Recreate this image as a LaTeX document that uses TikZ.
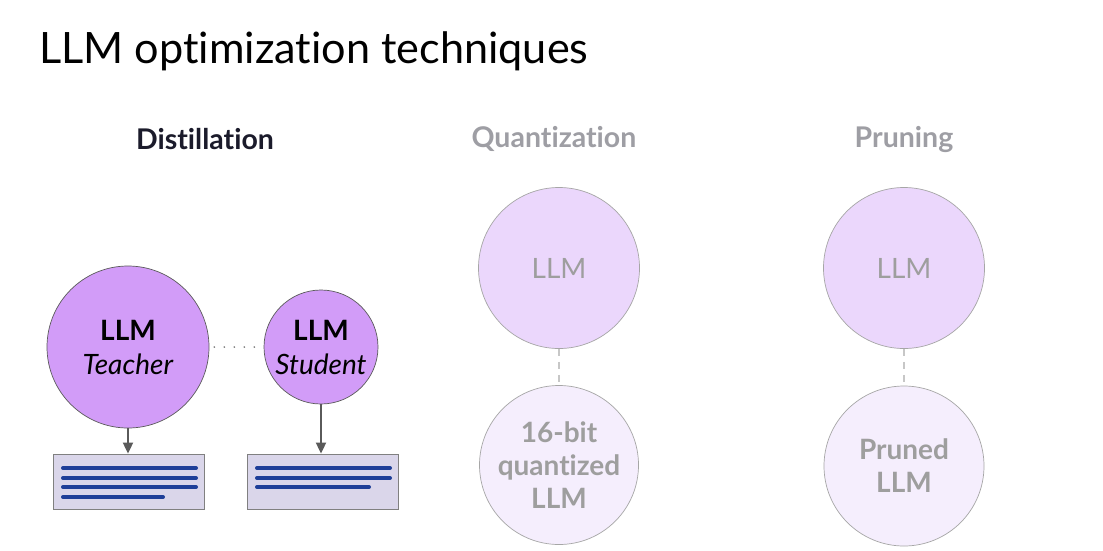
\documentclass[tikz,border=0pt]{standalone}
\usepackage{fontspec}
\setmainfont[Ligatures=NoCommon]{Lato}
\usetikzlibrary{arrows.meta}
\definecolor{teachfill}{HTML}{D29CF8}
\definecolor{qtop}{HTML}{EBD7FC}
\definecolor{qbot}{HTML}{F5EEFD}
\definecolor{graytxt}{HTML}{9E9E9E}
\definecolor{headgray}{HTML}{9E9EA4}
\definecolor{darkhead}{HTML}{1B1B2B}
\definecolor{boxfill}{HTML}{DAD6EA}
\definecolor{boxedge}{HTML}{808080}
\definecolor{lineblue}{HTML}{1F3F98}
\definecolor{arrowgray}{HTML}{5A5A5A}
\tikzset{
  bigcirc/.style={circle, draw=#1, line width=0.7pt, inner sep=0pt, align=center},
  outbox/.style={draw=boxedge, fill=boxfill, line width=0.8pt, minimum width=151pt, minimum height=55pt, inner sep=0pt},
  txtline/.style={lineblue, line width=4pt, line cap=round},
  outarrow/.style={arrowgray, line width=1.8pt, -{Triangle[width=10pt,length=11pt]}},
  head/.style={font=\fontsize{28.5}{32}\selectfont\bfseries, anchor=center},
  ctext/.style={font=\fontsize{28}{34}\selectfont},
  ctextb/.style={font=\fontsize{28}{33}\selectfont\bfseries},
}
\begin{document}
\begin{tikzpicture}[x=1pt,y=-1pt]
\useasboundingbox[fill=white] (0,0) rectangle (1103,550);
% title
\node[anchor=base west, inner sep=0pt, font=\fontsize{43.2}{48}\selectfont] (title) at (39,63) {LLM optimization techniques};
% headers
\node[head, text=darkhead] (hd) at (205,139) {Distillation};
\node[head, text=headgray] (hq) at (554,139) {Quantization};
\node[head, text=headgray] (hp) at (904,139) {Pruning};
% distillation
\node[bigcirc=arrowgray, fill=teachfill, minimum size=162pt, ctext] (teacher) at (128,347) {\textbf{LLM}\\\textit{Teacher}};
\node[bigcirc=arrowgray, fill=teachfill, minimum size=114pt, ctext] (student) at (321,347) {\textbf{LLM}\\\textit{Student}};
\draw[arrowgray!80, line width=1.8pt, line cap=round, dash pattern=on 0pt off 10pt, dash phase=-5pt] (teacher.east) -- (student.west);
\node[outbox] (box1) at (128.5,481.5) {};
\node[outbox] (box2) at (322.5,481.5) {};
\draw[outarrow] (teacher.south) -- (teacher.south |- box1.north);
\draw[outarrow] (student.south) -- (student.south |- box2.north);
\coordinate (b1a) at (63,468); \coordinate (b1b) at (196,468);
\coordinate (b1c) at (63,478); \coordinate (b1d) at (196,478);
\coordinate (b1e) at (63,487); \coordinate (b1f) at (196,487);
\coordinate (b1g) at (63,497); \coordinate (b1h) at (163,497);
\draw[txtline] (b1a) -- (b1b);
\draw[txtline] (b1c) -- (b1d);
\draw[txtline] (b1e) -- (b1f);
\draw[txtline] (b1g) -- (b1h);
\coordinate (b2a) at (257,468); \coordinate (b2b) at (390,468);
\coordinate (b2c) at (257,478); \coordinate (b2d) at (390,478);
\coordinate (b2e) at (257,487); \coordinate (b2f) at (369,487);
\draw[txtline] (b2a) -- (b2b);
\draw[txtline] (b2c) -- (b2d);
\draw[txtline] (b2e) -- (b2f);
% quantization
\node[bigcirc=boxedge!70, fill=qtop, minimum size=161pt, text=graytxt, ctext] (qllm) at (559,268) {LLM};
\node[bigcirc=boxedge!70, fill=qbot, minimum size=159pt, text=graytxt, ctextb] (qq) at (559,465) {16-bit\\quantized\\LLM};
\draw[black!22, line width=2pt, dash pattern=on 7pt off 6pt] (qllm.south) -- (qq.north);
% pruning
\node[bigcirc=boxedge!70, fill=qtop, minimum size=161pt, text=graytxt, ctext] (pllm) at (904,268) {LLM};
\node[bigcirc=boxedge!70, fill=qbot, minimum size=160pt, text=graytxt, ctextb] (pp) at (904,466) {Pruned\\LLM};
\draw[black!22, line width=2pt, dash pattern=on 7pt off 6pt] (pllm.south) -- (pp.north);
\end{tikzpicture}
\end{document}
